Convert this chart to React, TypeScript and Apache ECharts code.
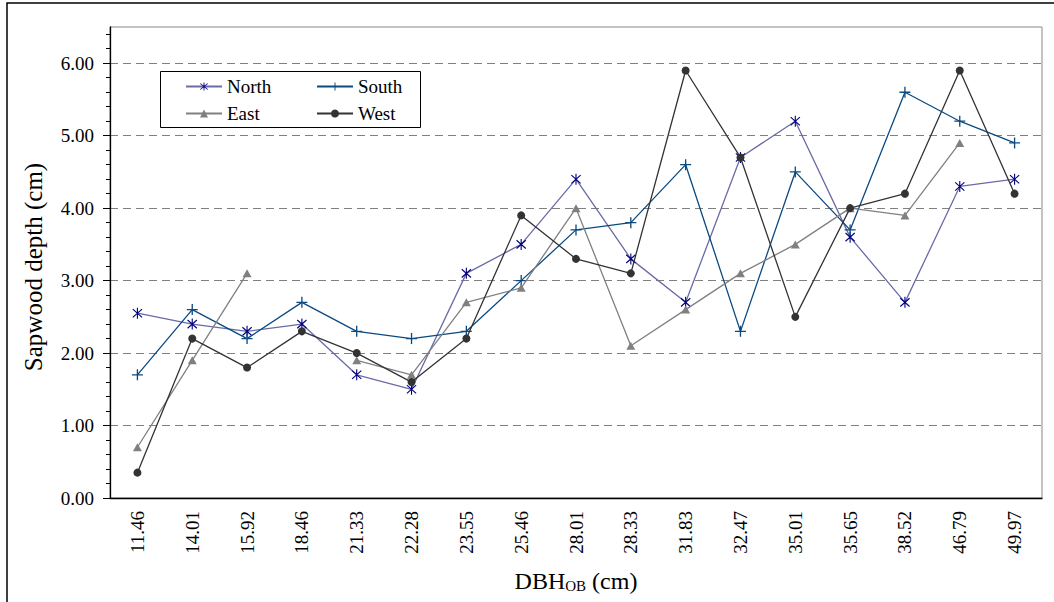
import React, { useEffect, useRef } from "react";
import * as echarts from "echarts";

const CATEGORIES = ["11.46", "14.01", "15.92", "18.46", "21.33", "22.28", "23.55", "25.46", "28.01", "28.33", "31.83", "32.47", "35.01", "35.65", "38.52", "46.79", "49.97"];
const NORTH = [2.55, 2.4, 2.3, 2.4, 1.7, 1.5, 3.1, 3.5, 4.4, 3.3, 2.7, 4.7, 5.2, 3.6, 2.7, 4.3, 4.4];
const SOUTH = [1.7, 2.6, 2.2, 2.7, 2.3, 2.2, 2.3, 3.0, 3.7, 3.8, 4.6, 2.3, 4.5, 3.7, 5.6, 5.2, 4.9];
const EAST = [0.7, 1.9, 3.1, null, 1.9, 1.7, 2.7, 2.9, 4.0, 2.1, 2.6, 3.1, 3.5, 4.0, 3.9, 4.9, null];
const WEST = [0.35, 2.2, 1.8, 2.3, 2.0, 1.6, 2.2, 3.9, 3.3, 3.1, 5.9, 4.7, 2.5, 4.0, 4.2, 5.9, 4.2];

const MAJOR_TICKS = [0, 1, 2, 3, 4, 5, 6];
const MINOR_TICKS = [0.2, 0.4, 0.6, 0.8, 1.2, 1.4, 1.6, 1.8, 2.2, 2.4, 2.6, 2.8, 3.2, 3.4, 3.6, 3.8, 4.2, 4.4, 4.6, 4.8, 5.2, 5.4, 5.6, 5.8, 6.2, 6.4];

const FONT = "'Liberation Serif', 'Times New Roman', serif";

const ASTERISK =
  "path://M-0.6,-6 L0.6,-6 L0.6,6 L-0.6,6 Z " +
  "M-5.4,-4.05 L-4.6,-4.95 L5.4,4.05 L4.6,4.95 Z " +
  "M-4.6,4.95 L-5.4,4.05 L4.6,-4.95 L5.4,-4.05 Z";
const PLUS =
  "path://M-0.6,-5 L0.6,-5 L0.6,-0.6 L5,-0.6 L5,0.6 L0.6,0.6 L0.6,5 L-0.6,5 L-0.6,0.6 L-5,0.6 L-5,-0.6 L-0.6,-0.6 Z";

export default function App() {
  const ref = useRef<HTMLDivElement>(null);
  useEffect(() => {
    if (!ref.current) return;
    const chart = echarts.init(ref.current, null, { renderer: "svg" });
    const legendCommon = {
      orient: "vertical" as const,
      itemWidth: 36,
      itemHeight: 10,
      itemGap: 8,
      textStyle: { fontFamily: FONT, fontSize: 19, color: "#000" },
      z: 5,
    };
    chart.setOption({
      animation: false,
      backgroundColor: "#fff",
      textStyle: { fontFamily: FONT },
      grid: { left: 110, right: 12, top: 27, bottom: 104, show: true, borderColor: "#888", borderWidth: 1, backgroundColor: "transparent" },
      legend: [
        { ...legendCommon, left: 180, top: 72, data: ["North", "East"] },
        { ...legendCommon, left: 311, top: 72, data: ["South", "West"] },
      ],
      graphic: [
        {
          type: "polyline",
          shape: { points: [[7, 602], [7, 3], [1054, 3]] },
          style: { stroke: "#000", lineWidth: 1.5, fill: "none" },
          silent: true,
        },
        {
          type: "rect",
          shape: { x: 160.5, y: 71.5, width: 260, height: 56 },
          style: { stroke: "#000", lineWidth: 1, fill: "#fff" },
          z: 1,
          silent: true,
        },
        {
          type: "text",
          x: 33,
          y: 267,
          rotation: Math.PI / 2,
          style: { text: "Sapwood depth (cm)", fontFamily: FONT, fontSize: 25, fill: "#000", align: "center", verticalAlign: "middle" },
          silent: true,
        },
      ],
      xAxis: [
        {
          type: "category",
          position: "bottom",
          data: CATEGORIES,
          boundaryGap: true,
          axisLine: { lineStyle: { color: "#000", width: 1.3 } },
          axisTick: { alignWithLabel: true, length: 7, lineStyle: { color: "#000" } },
          axisLabel: { rotate: 90, margin: 13, interval: 0, fontFamily: FONT, fontSize: 19, color: "#000" },
          splitLine: { show: false },
          name: "{a|DBH}{b|OB}{a| (cm)}",
          nameLocation: "middle",
          nameGap: 71,
          nameTextStyle: {
            rich: {
              a: { fontFamily: FONT, fontSize: 24, color: "#000" },
              b: { fontFamily: FONT, fontSize: 15, color: "#000", verticalAlign: "bottom", padding: [6, 0, 0, 0] },
            },
          },
        },
        {
          type: "category",
          position: "bottom",
          data: CATEGORIES,
          boundaryGap: true,
          axisLine: { show: false },
          axisTick: { alignWithLabel: false, inside: true, length: 6, lineStyle: { color: "#000" } },
          axisLabel: { show: false },
          splitLine: { show: false },
        },
        {
          type: "category",
          position: "bottom",
          data: CATEGORIES,
          boundaryGap: true,
          axisLine: { show: false },
          axisTick: { alignWithLabel: true, inside: true, length: 5, lineStyle: { color: "#000" } },
          axisLabel: { show: false },
          splitLine: { show: false },
        },
      ],
      yAxis: [
        {
          type: "value",
          position: "left",
          min: 0,
          max: 6.5,
          interval: 1,
          axisLine: { show: true, lineStyle: { color: "#000", width: 1.3 } },
          axisTick: { show: true, length: 7, customValues: MAJOR_TICKS, lineStyle: { color: "#000" } },
          axisLabel: {
            margin: 16,
            fontFamily: FONT,
            fontSize: 19,
            color: "#000",
            customValues: MAJOR_TICKS,
            formatter: (v: number) => (Math.abs(v - Math.round(v)) < 1e-9 ? v.toFixed(2) : ""),
          },
          splitLine: { show: true, lineStyle: { color: "#808080", type: [8, 5], width: 1 } },
        },
        {
          type: "value",
          position: "left",
          min: 0,
          max: 6.5,
          interval: 0.2,
          axisLine: { show: false },
          axisTick: { show: true, length: 4, customValues: MINOR_TICKS, lineStyle: { color: "#000" } },
          axisLabel: { show: false },
          splitLine: { show: false },
        },
      ],
      series: [
        {
          name: "North",
          type: "line",
          data: NORTH,
          symbol: ASTERISK,
          symbolSize: [10, 11],
          showAllSymbol: true,
          lineStyle: { color: "#6a6aa8", width: 1.3 },
          itemStyle: { color: "#000080" },
          emphasis: { disabled: true },
          z: 2,
        },
        {
          name: "South",
          type: "line",
          data: SOUTH,
          symbol: PLUS,
          symbolSize: 11,
          showAllSymbol: true,
          lineStyle: { color: "#0a4a80", width: 1.3 },
          itemStyle: { color: "#0a4a80" },
          emphasis: { disabled: true },
          z: 3,
        },
        {
          name: "East",
          type: "line",
          data: EAST,
          symbol: "triangle",
          symbolSize: [9, 8],
          showAllSymbol: true,
          connectNulls: false,
          lineStyle: { color: "#808080", width: 1.3 },
          itemStyle: { color: "#808080" },
          emphasis: { disabled: true },
          z: 4,
        },
        {
          name: "West",
          type: "line",
          data: WEST,
          symbol: "circle",
          symbolSize: 8,
          showAllSymbol: true,
          lineStyle: { color: "#333333", width: 1.3 },
          itemStyle: { color: "#333333" },
          emphasis: { disabled: true },
          z: 5,
        },
      ],
    });
    return () => chart.dispose();
  }, []);
  return (
    <div
      ref={ref}
      style={{ position: "fixed", left: 0, top: 0, width: 1054, height: 602, background: "#fff" }}
    />
  );
}
